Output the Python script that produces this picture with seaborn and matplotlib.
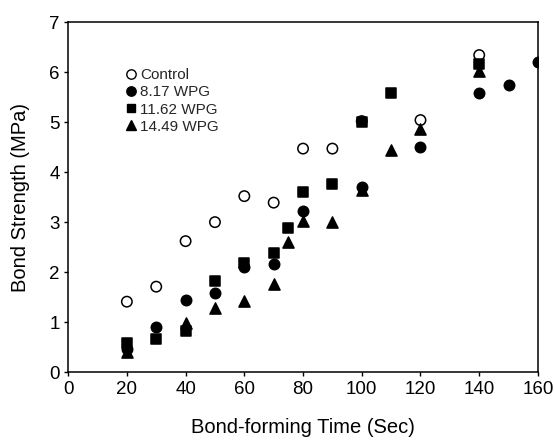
import matplotlib
matplotlib.use("Agg")
import matplotlib.pyplot as plt
import seaborn as sns
import pandas as pd

sns.set_theme(style="ticks")
plt.rcParams['font.family'] = ['Liberation Sans', 'DejaVu Sans']

control_x = [20, 30, 40, 50, 60, 70, 80, 90, 100, 120, 140]
control_y = [1.41, 1.71, 2.62, 3.00, 3.52, 3.39, 4.47, 4.47, 5.02, 5.04, 6.34]

wpg817_x = [20, 30, 40, 50, 60, 70, 80, 100, 120, 140, 150, 160]
wpg817_y = [0.47, 0.91, 1.44, 1.59, 2.10, 2.17, 3.23, 3.70, 4.51, 5.59, 5.74, 6.21]

wpg1162_x = [20, 30, 40, 50, 60, 70, 75, 80, 90, 100, 110, 140]
wpg1162_y = [0.59, 0.67, 0.83, 1.83, 2.18, 2.38, 2.89, 3.61, 3.76, 5.00, 5.59, 6.17]

wpg1449_x = [20, 40, 50, 60, 70, 75, 80, 90, 100, 110, 120, 140]
wpg1449_y = [0.40, 0.99, 1.29, 1.42, 1.77, 2.61, 3.02, 3.00, 3.65, 4.45, 4.87, 6.03]

series_names = ["Control", "8.17 WPG", "11.62 WPG", "14.49 WPG"]
x_ticks = [0, 20, 40, 60, 80, 100, 120, 140, 160]
y_ticks = [0, 1, 2, 3, 4, 5, 6, 7]

fig = plt.figure(figsize=(5.54, 4.41), dpi=100)
ax = fig.add_axes([0.123, 0.156, 0.848, 0.794])

specs = [
    (control_x, control_y, "o", "none", 7.5),
    (wpg817_x, wpg817_y, "o", "black", 7.5),
    (wpg1162_x, wpg1162_y, "s", "black", 7),
    (wpg1449_x, wpg1449_y, "^", "black", 8),
]
handles = []
for (xs, ys, m, fc, ms), name in zip(specs, series_names):
    df = pd.DataFrame({"t": xs, "s": ys})
    sns.scatterplot(data=df, x="t", y="s", ax=ax, marker=m, s=ms**2,
                    facecolors=fc, edgecolors="black", linewidths=1.1,
                    clip_on=True, zorder=3)
    h, = ax.plot([], [], linestyle="none", marker=m, markersize=ms * 0.9,
                 markerfacecolor=fc, markeredgecolor="black", markeredgewidth=1.0)
    handles.append(h)

ax.set_xlim(0, 160)
ax.set_ylim(0, 7)
ax.set_xticks(x_ticks)
ax.set_yticks(y_ticks)
ax.set_xticklabels([str(v) for v in x_ticks])
ax.set_yticklabels([str(v) for v in y_ticks])
ax.tick_params(direction="out", length=3, width=1, labelsize=13.5, colors="black", pad=3)
for sp in ax.spines.values():
    sp.set_color("black")
    sp.set_linewidth(1.1)
    sp.set_visible(True)

ax.set_xlabel("Bond-forming Time (Sec)", fontsize=14.5, labelpad=15, color="black")
ax.set_ylabel("Bond Strength (MPa)", fontsize=14.5, labelpad=14, color="black")

ax.legend(handles, series_names, loc="upper left", bbox_to_anchor=(0.105, 0.885),
          frameon=False, fontsize=11, handletextpad=0.1, handlelength=1.0,
          labelspacing=0.2, borderaxespad=0)

fig.savefig("out.png", dpi=100)
